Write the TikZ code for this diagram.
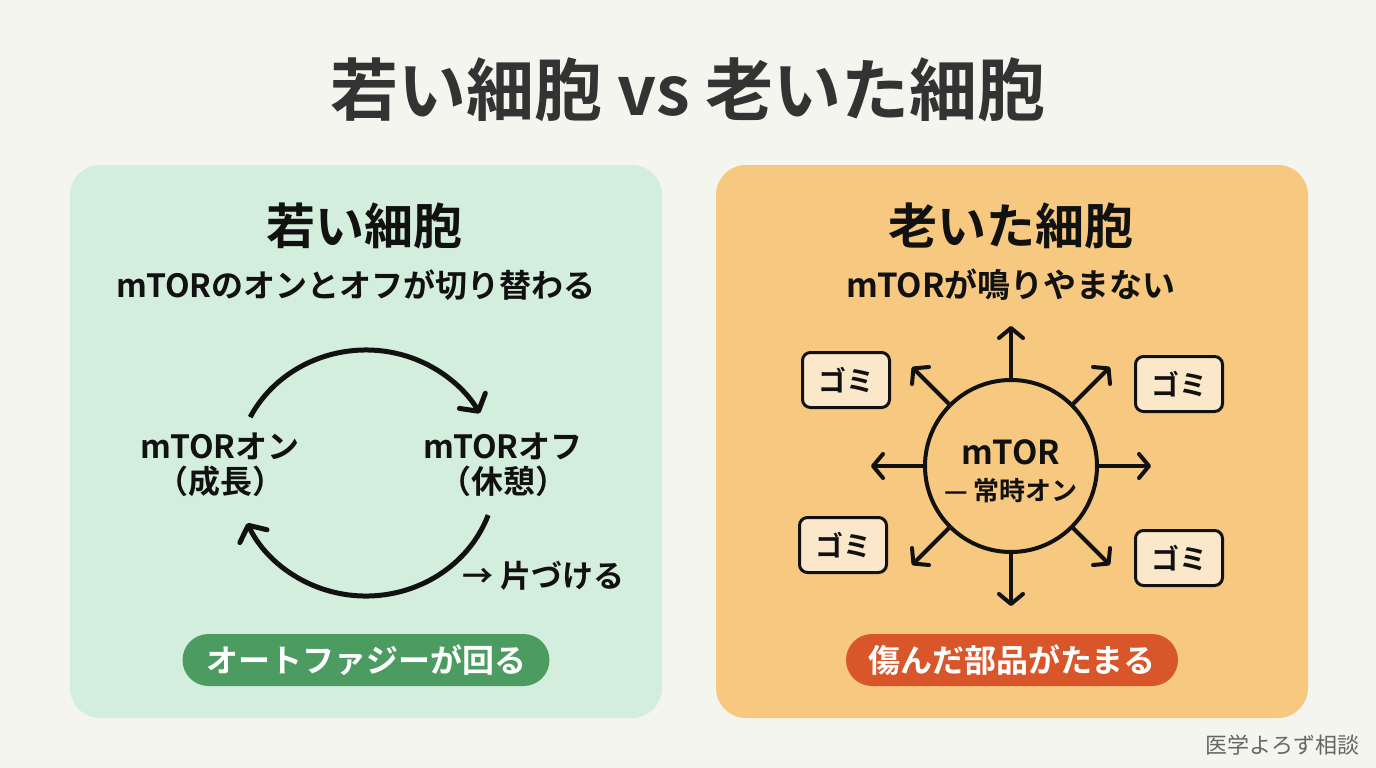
\documentclass[tikz,border=0pt]{standalone}
\usepackage{fontspec}
\setmainfont{Noto Sans CJK JP}[BoldFont={Noto Sans CJK JP Bold}]
\usetikzlibrary{arrows.meta,calc}
\definecolor{bgc}{HTML}{F4F5EF}
\definecolor{leftc}{HTML}{D4EEDD}
\definecolor{rightc}{HTML}{F7C87F}
\definecolor{greenpill}{HTML}{4C9C62}
\definecolor{orangepill}{HTML}{D9552A}
\definecolor{gomic}{HTML}{FBE7C9}
\definecolor{titlec}{HTML}{333333}
\definecolor{ink}{HTML}{111111}
\definecolor{wm}{HTML}{666666}
\newcommand{\fs}[1]{\fontsize{#1}{#1}\selectfont}
\begin{document}
\begin{tikzpicture}[x=1pt,y=-1pt,
  panel/.style={rounded corners=30pt},
  txt/.style={text=ink,font=\bfseries,inner sep=0pt,align=center},
  pill/.style={rounded corners=26pt,minimum height=52pt,text=white,font=\bfseries\fs{32},inner sep=0pt},
  cyc/.style={draw=ink,line width=5pt,-{Straight Barb[length=12pt,width=30pt,line width=5pt,round]}},
  ray/.style={draw=ink,line width=4pt,-{Straight Barb[length=10pt,width=24pt,line width=4pt,round]}},
  gomibox/.style={draw=ink,line width=3pt,fill=gomic,rounded corners=8pt,minimum width=87pt,minimum height=55pt,inner sep=0pt,font=\bfseries\fs{28},text=ink}
]
\useasboundingbox (0,0) rectangle (1376,768);
\fill[bgc] (0,0) rectangle (1376,768);

% title
\node[txt,text=titlec,font=\bfseries\fs{68}] (title) at (688,90) {若い細胞 vs 老いた細胞};

% panels
\fill[leftc,panel] (70,165) rectangle (662,718);
\fill[rightc,panel] (716,165) rectangle (1308,718);

% left panel
\node[txt,font=\bfseries\fs{49}] (lh) at (364,226) {若い細胞};
\node[txt,font=\bfseries\fs{32}] (ls) at (356,285) {mTORのオンとオフが切り替わる};

\node[txt,font=\bfseries\fs{32}] (on) at (220,465) {mTORオン\\[3pt]（成長）};
\node[txt,font=\bfseries\fs{32}] (off) at (503,465) {mTORオフ\\[3pt]（休憩）};

\draw[cyc] (366,473) ++(-153:130 and 123) arc[start angle=-153,end angle=-29,x radius=130,y radius=123];
\draw[cyc] (366,473) ++(20:130 and 123) arc[start angle=20,end angle=156,x radius=130,y radius=123];

\node[txt,font=\bfseries\fs{31},anchor=west] (tidy) at (462,576) {→ 片づける};

\node[pill,fill=greenpill,minimum width=367pt] (lp) at (366,660) {オートファジーが回る};

% right panel
\node[txt,font=\bfseries\fs{49}] (rh) at (1011,226) {老いた細胞};
\node[txt,font=\bfseries\fs{33}] (rs) at (1011,285) {mTORが鳴りやまない};

\node[circle,draw=ink,line width=4pt,minimum size=172pt,inner sep=0pt] (core) at (1011,466) {};
\node[txt,font=\bfseries\fs{33}] (coret) at (1011,452) {mTOR};
\node[txt,font=\bfseries\fs{26}] (cores) at (1011,491) {— 常時オン};

\foreach \a in {0,45,...,315}{
  \coordinate (tip\a) at ($(core.center)+(-\a:140)$);
  \draw[ray] (core.\a) -- (tip\a);
}

\node[gomibox] (g1) at (846,380) {ゴミ};
\node[gomibox] (g2) at (1179,384) {ゴミ};
\node[gomibox] (g3) at (843,545) {ゴミ};
\node[gomibox] (g4) at (1179,558) {ゴミ};

\node[pill,fill=orangepill,minimum width=332pt] (rp) at (1012,660) {傷んだ部品がたまる};

% watermark
\node[inner sep=0pt,text=wm,font=\fs{22}] (wmk) at (1282,745) {医学よろず相談};
\end{tikzpicture}
\end{document}
